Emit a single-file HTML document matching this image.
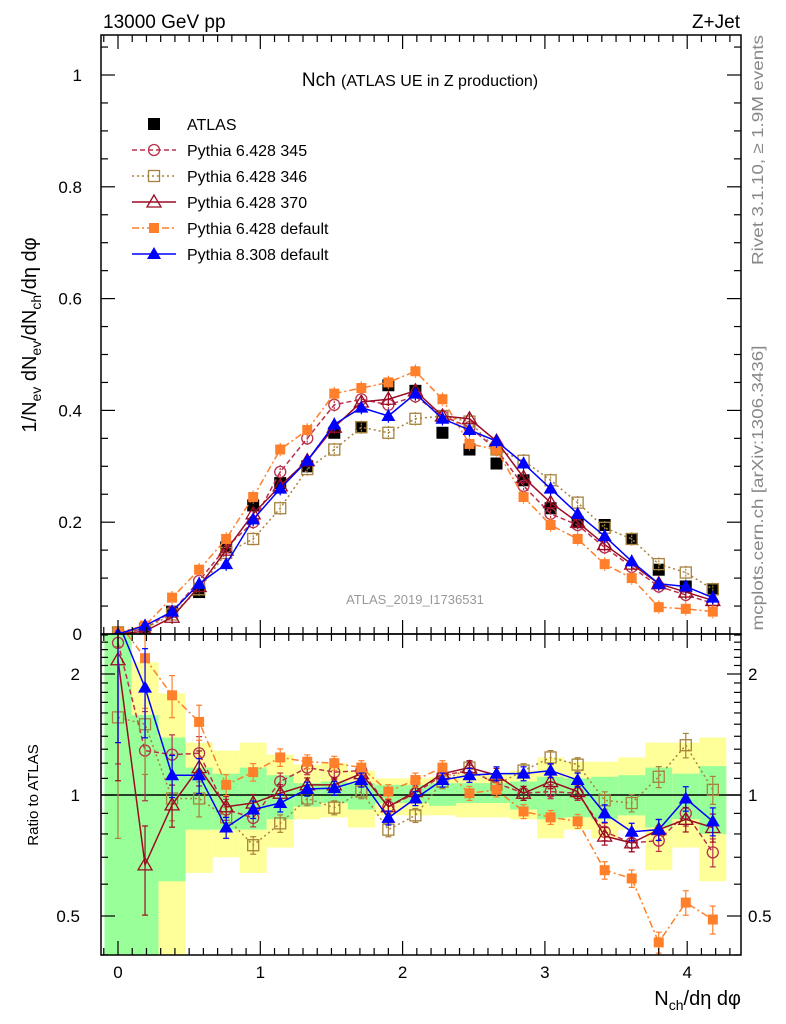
<!DOCTYPE html>
<html><head><meta charset="utf-8"><style>
html,body{margin:0;padding:0;background:#fff;}
svg{display:block;font-family:"Liberation Sans",Arial,sans-serif;}
</style></head><body>
<svg id="chart" width="786" height="1024" viewBox="0 0 786 1024" xmlns="http://www.w3.org/2000/svg">
<g id="bands"></g>
<g id="marks"></g>
<g id="axes"></g>
<text x="103" y="28" font-size="19">13000 GeV pp</text>
<text x="740" y="28" font-size="19" text-anchor="end">Z+Jet</text>
<text x="420" y="86" font-size="19" text-anchor="middle">Nch <tspan font-size="16">(ATLAS UE in Z production)</tspan></text>
<text x="415" y="604" font-size="13" fill="#999" text-anchor="middle">ATLAS_2019_I1736531</text>
<text transform="translate(763,150) rotate(-90)" font-size="16" fill="#888" text-anchor="middle" textLength="230" lengthAdjust="spacingAndGlyphs">Rivet 3.1.10, ≥ 1.9M events</text>
<text transform="translate(763,488) rotate(-90)" font-size="16" fill="#888" text-anchor="middle" textLength="285" lengthAdjust="spacingAndGlyphs">mcplots.cern.ch [arXiv:1306.3436]</text>
<text transform="translate(36,335) rotate(-90)" font-size="20" text-anchor="middle">1/N<tspan font-size="14" dy="5">ev</tspan><tspan dy="-5"> dN</tspan><tspan font-size="14" dy="5">ev</tspan><tspan dy="-5">/dN</tspan><tspan font-size="14" dy="5">ch</tspan><tspan dy="-5">/dη dφ</tspan></text>
<text transform="translate(38,795) rotate(-90)" font-size="15" text-anchor="middle">Ratio to ATLAS</text>
<text x="741" y="1005" font-size="20" text-anchor="end">N<tspan font-size="14" dy="5">ch</tspan><tspan dy="-5">/dη dφ</tspan></text>
<g id="legend"></g>
</svg>
<script>
const xs = [0,0.19,0.38,0.57,0.76,0.95,1.14,1.33,1.52,1.71,1.9,2.09,2.28,2.47,2.66,2.85,3.04,3.23,3.42,3.61,3.8,3.99,4.18];
const atlas = [0.0,0.005,0.04,0.075,0.155,0.23,0.27,0.30,0.36,0.37,0.445,0.435,0.36,0.33,0.305,0.275,0.225,0.20,0.195,0.17,0.115,0.085,0.08];
const p345 = [0.0,0.01,0.04,0.095,0.155,0.20,0.29,0.35,0.41,0.42,0.41,0.425,0.39,0.37,0.33,0.265,0.215,0.195,0.155,0.12,0.085,0.07,0.055];
const p346 = [0.003,0.01,0.035,0.08,0.145,0.17,0.225,0.295,0.33,0.37,0.36,0.385,0.39,0.38,0.33,0.31,0.275,0.235,0.19,0.17,0.125,0.11,0.08];
const p370 = [0.0,0.005,0.03,0.085,0.15,0.215,0.265,0.31,0.37,0.415,0.42,0.435,0.39,0.385,0.345,0.28,0.235,0.20,0.16,0.125,0.09,0.075,0.06];
const pdef = [0.003,0.015,0.065,0.115,0.17,0.245,0.33,0.365,0.43,0.44,0.45,0.47,0.42,0.34,0.33,0.245,0.195,0.17,0.125,0.10,0.048,0.045,0.04];
const p8 = [0.0,0.015,0.04,0.09,0.125,0.205,0.26,0.31,0.375,0.405,0.39,0.43,0.385,0.365,0.345,0.305,0.26,0.215,0.175,0.13,0.09,0.085,0.065];
const r345 = [2.39,1.29,1.26,1.27,0.92,0.877,1.08,1.17,1.14,1.15,0.935,1.01,1.12,1.15,1.07,1.01,1.02,1.01,0.81,0.76,0.77,0.9,0.72];
const r346 = [1.56,1.50,0.98,0.98,0.88,0.75,0.85,0.98,0.93,1.02,0.82,0.89,1.08,1.17,1.06,1.15,1.24,1.19,0.97,0.955,1.11,1.33,1.03];
const r370 = [2.17,0.67,0.945,1.17,0.935,0.955,1.01,1.06,1.06,1.13,0.935,1.02,1.13,1.17,1.12,1.01,1.08,1.02,0.79,0.76,0.82,0.87,0.83];
const rdef = [2.7,2.19,1.77,1.52,1.06,1.14,1.24,1.21,1.20,1.17,1.02,1.09,1.17,1.01,1.03,0.91,0.88,0.86,0.65,0.62,0.43,0.54,0.49];
const r8 = [2.7,1.85,1.12,1.12,0.83,0.92,0.955,1.035,1.04,1.09,0.877,0.98,1.09,1.12,1.13,1.13,1.15,1.09,0.9,0.81,0.82,0.98,0.86];
const rErr = [0.5,0.25,0.12,0.1,0.06,0.05,0.05,0.04,0.04,0.04,0.04,0.04,0.04,0.04,0.04,0.04,0.04,0.04,0.05,0.05,0.06,0.07,0.08];
const greenLo = [0.4,0.4,0.61,0.82,0.82,0.82,0.87,0.935,0.955,0.92,0.955,0.955,0.94,0.955,0.955,0.92,0.87,0.88,0.87,0.89,0.83,0.87,0.8];
const greenHi = [2.6,1.58,1.39,1.17,1.13,1.17,1.12,1.07,1.08,1.07,1.06,1.06,1.07,1.07,1.07,1.08,1.11,1.10,1.11,1.12,1.17,1.13,1.18];
const yellowLo = [0.4,0.4,0.4,0.64,0.70,0.64,0.74,0.87,0.88,0.83,0.89,0.89,0.89,0.88,0.88,0.87,0.78,0.82,0.78,0.82,0.65,0.74,0.61];
const yellowHi = [2.6,2.14,1.79,1.35,1.29,1.35,1.26,1.19,1.2,1.15,1.10,1.10,1.11,1.13,1.13,1.15,1.24,1.21,1.21,1.24,1.35,1.35,1.39];
const yTicks = [0,0.2,0.4,0.6,0.8,1];
const yTickLabels = ["0","0.2","0.4","0.6","0.8","1"];
const xTicks = [0,1,2,3,4];
const rTicks = [0.5,1,2];
const rTickLabels = ["0.5","1","2"];

const NS="http://www.w3.org/2000/svg";
const L=101,R=741,T=35,MB=634,RB=955;
const X=v=>118+v*142.3;
const Y=v=>634-v*559;
const RY=v=>795-121*Math.log2(v);
function el(tag,attrs,parent){const e=document.createElementNS(NS,tag);for(const k in attrs)e.setAttribute(k,attrs[k]);parent.appendChild(e);return e;}
const bands=document.getElementById('bands'),marks=document.getElementById('marks'),axes=document.getElementById('axes'),legend=document.getElementById('legend');

const clampR=v=>Math.min(Math.max(RY(v),MB),RB);
xs.forEach((x,i)=>{
  const x0=Math.max(X(x-0.095),L),x1=X(x+0.095);
  const y=el('rect',{x:x0,y:clampR(yellowHi[i]),width:x1-x0,height:clampR(yellowLo[i])-clampR(yellowHi[i]),fill:'#ffff99'},bands);
  
  
  const g=el('rect',{x:x0,y:clampR(greenHi[i]),width:x1-x0,height:clampR(greenLo[i])-clampR(greenHi[i]),fill:'#99ff99'},bands);
  
  
});

const series=[
 {name:'pythia-6-345',label:'Pythia 6.428 345',main:p345,ratio:r345,color:'#b8304c',dash:'5,3',marker:'circle'},
 {name:'pythia-6-346',label:'Pythia 6.428 346',main:p346,ratio:r346,color:'#a8823c',dash:'2,3',marker:'osquare'},
 {name:'pythia-6-370',label:'Pythia 6.428 370',main:p370,ratio:r370,color:'#9a0c24',dash:'',marker:'otri'},
 {name:'pythia-6-default',label:'Pythia 6.428 default',main:pdef,ratio:rdef,color:'#ff7f2a',dash:'7,3,2,3',marker:'fsquare'},
 {name:'pythia-8-default',label:'Pythia 8.308 default',main:p8,ratio:r8,color:'#0000ff',dash:'',marker:'ftri'}
];
function marker(type,cx,cy,color,parent){
  let m;
  if(type==='circle')m=el('circle',{cx:cx,cy:cy,r:5.5,fill:'none',stroke:color,'stroke-width':1.3},parent);
  else if(type==='osquare')m=el('rect',{x:cx-5.5,y:cy-5.5,width:11,height:11,fill:'none',stroke:color,'stroke-width':1.3},parent);
  else if(type==='fsquare')m=el('rect',{x:cx-5,y:cy-5,width:10,height:10,fill:color},parent);
  else if(type==='asquare')m=el('rect',{x:cx-6,y:cy-6,width:12,height:12,fill:'#000'},parent);
  else if(type==='otri')m=el('polygon',{points:`${cx},${cy-7} ${cx-7},${cy+5} ${cx+7},${cy+5}`,fill:'none',stroke:color,'stroke-width':1.3},parent);
  else m=el('polygon',{points:`${cx},${cy-7} ${cx-7},${cy+5} ${cx+7},${cy+5}`,fill:color},parent);
  return m;
}
const defs=el('defs',{},document.getElementById('chart'));
const cp=el('clipPath',{id:'rclip'},defs);el('rect',{x:L,y:MB,width:R-L,height:RB-MB},cp);
const cp2=el('clipPath',{id:'mclip'},defs);el('rect',{x:L,y:T,width:R-L,height:MB-T},cp2);
const mg=el('g',{'clip-path':'url(#mclip)'},marks);
const rg=el('g',{'clip-path':'url(#rclip)'},marks);

atlas.forEach((v,i)=>{const m=marker('asquare',X(xs[i]),Y(v),'#000',mg);
  
  });
el('line',{x1:L,y1:RY(1),x2:R,y2:RY(1),stroke:'#000','stroke-width':1.5},rg);

series.forEach(s=>{
  const pts=s.main.map((v,i)=>X(xs[i])+','+Y(v)).join(' ');
  const pl=el('polyline',{points:pts,fill:'none',stroke:s.color,'stroke-width':1.5,'stroke-dasharray':s.dash},mg);
  
  
  s.main.forEach((v,i)=>{
    el('line',{x1:X(xs[i]),y1:Y(v+0.012),x2:X(xs[i]),y2:Y(v-0.012),stroke:s.color,'stroke-width':1.2,'stroke-dasharray':s.dash?'2,1':''},mg);
    const m=marker(s.marker,X(xs[i]),Y(v),s.color,mg);
    
    
  });
  const rp=s.ratio.map((v,i)=>X(xs[i])+','+RY(v)).join(' ');
  const rl=el('polyline',{points:rp,fill:'none',stroke:s.color,'stroke-width':1.5,'stroke-dasharray':s.dash},rg);
  
  
  s.ratio.forEach((v,i)=>{
    const e=rErr[i]*v;
    el('line',{x1:X(xs[i]),y1:RY(v+e),x2:X(xs[i]),y2:RY(Math.max(v-e,0.01)),stroke:s.color,'stroke-width':1.2},rg);
    el('line',{x1:X(xs[i])-3,y1:RY(v+e),x2:X(xs[i])+3,y2:RY(v+e),stroke:s.color,'stroke-width':1.2},rg);
    el('line',{x1:X(xs[i])-3,y1:RY(Math.max(v-e,0.01)),x2:X(xs[i])+3,y2:RY(Math.max(v-e,0.01)),stroke:s.color,'stroke-width':1.2},rg);
    const m=marker(s.marker,X(xs[i]),RY(v),s.color,rg);
    
    
  });
});

el('rect',{x:L,y:T,width:R-L,height:MB-T,fill:'none',stroke:'#000','stroke-width':1.5},axes);
el('rect',{x:L,y:MB,width:R-L,height:RB-MB,fill:'none',stroke:'#000','stroke-width':1.5},axes);
for(let k=-1;k<=43;k++){const v=k/10;const x=X(v);if(x<L||x>R)continue;const maj=k%10===0;const len=maj?14:7;
  [[MB,-1],[T,1],[RB,-1],[MB,1]].forEach(([y,d])=>el('line',{x1:x,y1:y,x2:x,y2:y+d*len,stroke:'#000','stroke-width':1.2},axes));}
xTicks.forEach(v=>{const t=el('text',{x:X(v),y:978,'font-size':17,'text-anchor':'middle'},axes);t.textContent=String(v);
  
  });
for(let k=1;k<=21;k++){const v=k*0.05;const y=Y(v);if(y<T)continue;const maj=k%4===0;const len=maj?14:7;
  el('line',{x1:L,y1:y,x2:L+len,y2:y,stroke:'#000','stroke-width':1.2},axes);
  el('line',{x1:R,y1:y,x2:R-len,y2:y,stroke:'#000','stroke-width':1.2},axes);}
yTicks.forEach((v,i)=>{const t=el('text',{x:82,y:Y(v)+6,'font-size':17,'text-anchor':'end'},axes);t.textContent=yTickLabels[i];
  
  });
const rMinor=[0.4,0.5,0.6,0.7,0.8,0.9,1,1.1,1.2,1.3,1.4,1.5,1.6,1.7,1.8,1.9,2,2.1,2.2,2.3,2.4,2.5];
rMinor.forEach(v=>{const y=RY(v);if(y<MB||y>RB)return;const maj=rTicks.includes(v);const len=maj?14:7;
  el('line',{x1:L,y1:y,x2:L+len,y2:y,stroke:'#000','stroke-width':1.2},axes);
  el('line',{x1:R,y1:y,x2:R-len,y2:y,stroke:'#000','stroke-width':1.2},axes);});
rTicks.forEach((v,i)=>{
  const t=el('text',{x:80,y:RY(v)+6,'font-size':17,'text-anchor':'end'},axes);t.textContent=rTickLabels[i];
  
  
  const t2=el('text',{x:748,y:RY(v)+6,'font-size':17},axes);t2.textContent=rTickLabels[i];
  
  });

const legItems=[{label:'ATLAS',marker:'asquare',color:'#000',dash:null}].concat(series);
legItems.forEach((s,i)=>{const y=124+i*26;
  const g=el('g',{},legend);
  
  
  if(s.dash!==null){el('line',{x1:132,y1:y,x2:176,y2:y,stroke:s.color,'stroke-width':1.5,'stroke-dasharray':s.dash},g);}
  marker(s.marker,154,y,s.color,g);
  const t=el('text',{x:187,y:y+6,'font-size':16},g);t.textContent=s.label;});
</script>
</body></html>
